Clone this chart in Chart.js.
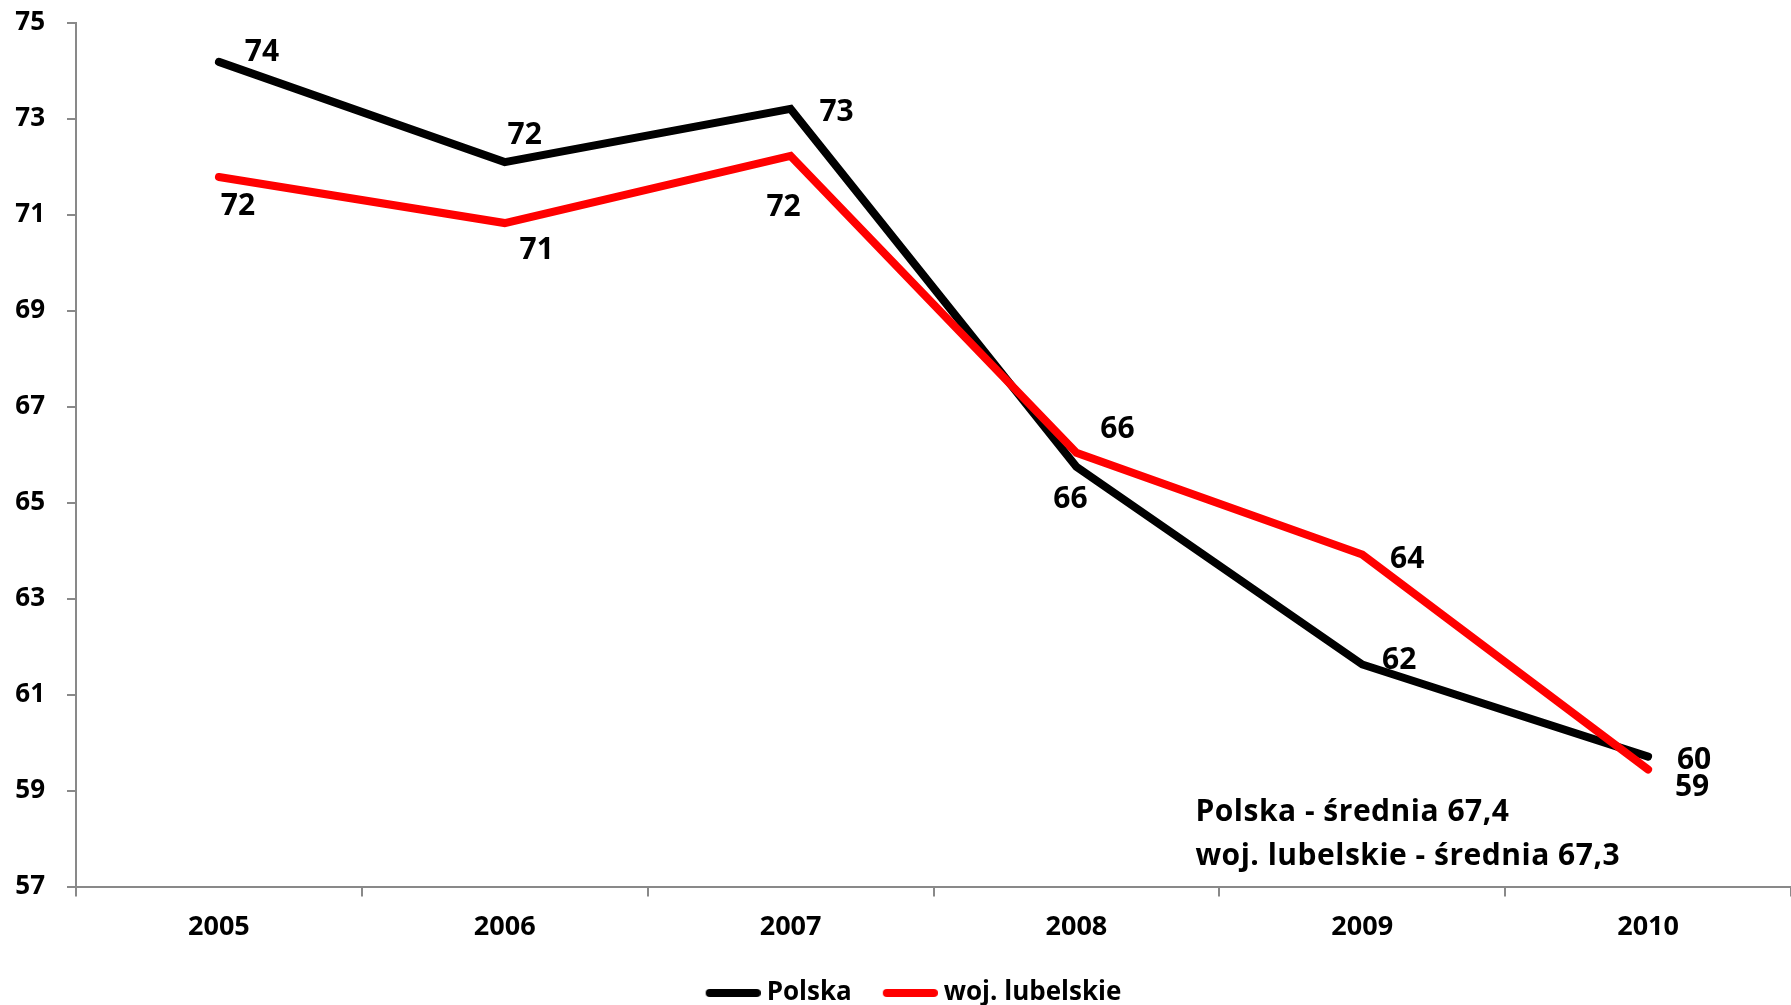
<!DOCTYPE html>
<html>
<head>
<meta charset="utf-8">
<script src="https://cdn.jsdelivr.net/npm/chart.js@4"></script>
<style>
  html, body { margin: 0; padding: 0; background: #fff; }
  #wrap { width: 1791px; height: 1005px; }
</style>
</head>
<body>
<div id="wrap"><canvas id="chart"></canvas></div>
<script>
const years = ["2005", "2006", "2007", "2008", "2009", "2010"];
const polska = [74.19, 72.1, 73.21, 65.75, 61.63, 59.71];
const lubelskie = [71.79, 70.83, 72.23, 66.04, 63.92, 59.44];
const seriesNames = ["Polska", "woj. lubelskie"];
const seriesColors = ["#000000", "#ff0000"];
const averageNotes = ["Polska - średnia 67,4", "woj. lubelskie - średnia 67,3"];

// where each value label sits relative to its point (px)
const polskaLabelOffsets = [[43, -9], [20, -27], [46, 4], [-6, 33], [37, -4], [46, 4]];
const lubelskieLabelOffsets = [[19, 29], [32, 27], [-7, 52], [41, -23], [45, 5], [44, 18]];

const FONT = "'Open Sans', Lato, sans-serif";

// legend swatch: thick round-capped line, shifted right so it sits close to the text
function legendLine(color) {
  const c = document.createElement("canvas");
  c.width = 62;
  c.height = 10;
  const g = c.getContext("2d");
  g.strokeStyle = color;
  g.lineWidth = 8;
  g.lineCap = "round";
  g.beginPath();
  g.moveTo(11, 5);
  g.lineTo(58, 5);
  g.stroke();
  return c;
}

const valueLabels = {
  id: "valueLabels",
  afterDatasetsDraw(chart) {
    const ctx = chart.ctx;
    const offsets = [polskaLabelOffsets, lubelskieLabelOffsets];
    ctx.save();
    ctx.font = "bold 30px " + FONT;
    ctx.fillStyle = "#000";
    ctx.textAlign = "center";
    ctx.textBaseline = "middle";
    chart.data.datasets.forEach((ds, i) => {
      const meta = chart.getDatasetMeta(i);
      meta.data.forEach((pt, j) => {
        const off = offsets[i][j];
        ctx.fillText(String(Math.round(ds.data[j])), pt.x + off[0], pt.y + off[1]);
      });
    });
    ctx.restore();
  },
};

const averageText = {
  id: "averageText",
  afterDraw(chart) {
    const ctx = chart.ctx;
    const x = chart.scales.x.getPixelForValue(3) + 119;
    const y = chart.scales.y.getPixelForValue(58.37);
    ctx.save();
    ctx.font = "bold 30px " + FONT;
    ctx.letterSpacing = "0.5px";
    ctx.fillStyle = "#000";
    ctx.textAlign = "left";
    ctx.textBaseline = "alphabetic";
    averageNotes.forEach((t, i) => ctx.fillText(t, x, y + i * 44));
    ctx.restore();
  },
};

// the legend in the original sits a little right of the canvas centre
const legendShift = {
  id: "legendShift",
  afterLayout(chart) {
    chart.legend.left += 18;
    chart.legend.right += 18;
  },
};

const ctx = document.getElementById("chart").getContext("2d");
const chart = new Chart(ctx, {
  type: "line",
  data: {
    labels: years,
    datasets: [
      {
        label: seriesNames[0],
        data: polska,
        borderColor: seriesColors[0],
        backgroundColor: seriesColors[0],
        borderWidth: 8,
        borderCapStyle: "round",
        borderJoinStyle: "miter",
        pointRadius: 0,
        pointStyle: legendLine(seriesColors[0]),
        tension: 0,
        order: 2,
      },
      {
        label: seriesNames[1],
        data: lubelskie,
        borderColor: seriesColors[1],
        backgroundColor: seriesColors[1],
        borderWidth: 8,
        borderCapStyle: "round",
        borderJoinStyle: "miter",
        pointRadius: 0,
        pointStyle: legendLine(seriesColors[1]),
        tension: 0,
        order: 1,
      },
    ],
  },
  options: {
    responsive: true,
    maintainAspectRatio: false,
    animation: false,
    layout: {
      autoPadding: false,
      padding: { top: 23, right: 0, left: 0, bottom: -11 },
    },
    scales: {
      x: {
        offset: true,
        grid: {
          display: true,
          offset: true,
          drawOnChartArea: false,
          drawTicks: true,
          tickLength: 10,
          color: "#898989",
          lineWidth: 2,
        },
        border: { color: "#898989", width: 2 },
        ticks: {
          color: "#000",
          font: { family: FONT, size: 27, weight: "bold" },
          padding: 15,
          maxRotation: 0,
        },
        afterFit(scale) {
          scale.height -= 10;
        },
      },
      y: {
        min: 57,
        max: 75,
        grid: {
          display: true,
          drawOnChartArea: false,
          drawTicks: true,
          tickLength: 9,
          color: "#898989",
          lineWidth: 2,
        },
        border: { color: "#898989", width: 2 },
        ticks: {
          stepSize: 2,
          color: "#000",
          font: { family: FONT, size: 26, weight: "bold" },
          padding: 22,
        },
        afterFit(scale) {
          scale.width = 76;
          scale.paddingTop = 0;
          scale.paddingBottom = 0;
        },
      },
    },
    plugins: {
      legend: {
        display: true,
        position: "bottom",
        labels: {
          usePointStyle: true,
          pointStyleWidth: 48,
          color: "#000",
          font: { family: FONT, size: 26, weight: "bold" },
          padding: 31,
          sort: (a, b) => a.datasetIndex - b.datasetIndex,
        },
      },
      tooltip: { enabled: false },
    },
  },
  plugins: [valueLabels, averageText, legendShift],
});
</script>
</body>
</html>
